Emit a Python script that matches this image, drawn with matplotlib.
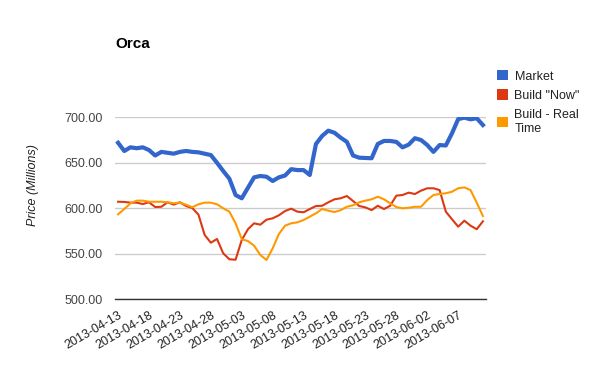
import pandas as pd
import matplotlib
matplotlib.use("Agg")
import matplotlib.pyplot as plt
from matplotlib.patches import Patch

plt.rcParams['font.family'] = ['Liberation Sans', 'DejaVu Sans']

# daily values, 2013-04-13 .. 2013-06-11
dates = pd.date_range("2013-04-13", periods=60, freq="D").strftime("%Y-%m-%d").tolist()

market = [672, 663, 667, 666, 667, 664, 658, 662, 661, 660,
          662, 663, 662, 661.5, 660, 658.5, 650, 641, 632.5, 614.6,
          611, 622.6, 634, 635.5, 634.7, 630, 634, 636, 643, 642,
          642, 636.6, 670.7, 679.5, 685.3, 683, 677.6, 673, 658, 655.6,
          655.3, 655, 670.7, 674, 674, 673, 667, 670, 677, 675,
          669.5, 662, 669.5, 669, 682.4, 698, 699.6, 697.8, 699, 691.5]

build_now = [607.2, 607, 606.2, 606.2, 604.7, 606.6, 601.4, 601.7, 606.6, 604,
             606.6, 602.5, 600.3, 593, 570.7, 562.2, 566.3, 550.5, 544, 543.5,
             565.2, 577, 583.5, 582, 587.5, 589, 592.3, 597, 599.6, 596.3,
             595.6, 599.2, 602.5, 602.8, 606.6, 609.9, 611, 613.5, 608, 602.5,
             601, 598, 602.8, 599.2, 602.8, 613.9, 614.6, 617.2, 615.7, 619.4,
             622, 622, 620, 596.3, 588, 579.8, 586.4, 580.9, 577, 585.7]

build_real = [593.4, 599.2, 605.5, 608.4, 608.4, 607.2, 607.2, 607.2, 606.6, 605.5,
              606.2, 603.9, 601.2, 604.4, 606.2, 606.2, 604.4, 600, 596.3, 583.5,
              566, 564, 558.9, 548.7, 543.2, 556, 571.7, 580.9, 583.5, 584.6,
              587.1, 590.8, 594.5, 599.2, 597.4, 595.9, 598, 601.7, 603.3, 606.6,
              608.4, 609.9, 612.7, 609.9, 605.5, 601.4, 600, 600.6, 601.7, 601.7,
              609.1, 614.6, 615.7, 616.5, 618.2, 622, 623, 620, 606.2, 591.5]

series_names = ["Market", 'Build "Now"', "Build - Real Time"]
legend_labels = ["Market", 'Build "Now"', "Build - Real\nTime"]
colors = ["#3366cc", "#dc3912", "#ff9900"]
y_ticks = [500, 550, 600, 650, 700]

fig = plt.figure(figsize=(6, 3.71), dpi=100)
ax = fig.add_axes([115 / 600, 1 - 299.3 / 371, 371 / 600, 182 / 371])

x = list(range(len(dates)))
ax.plot(x, market, color=colors[0], lw=3.0, solid_joinstyle="round", zorder=3)
ax.plot(x, build_now, color=colors[1], lw=1.5, zorder=3)
ax.plot(x, build_real, color=colors[2], lw=1.5, zorder=3)

ax.set_xlim(-0.5, len(dates) - 0.5)
ax.set_ylim(500, 700)
ax.set_yticks(y_ticks)
ax.set_yticklabels([f"{v:.2f}" for v in y_ticks])
ax.yaxis.grid(True, color="#cccccc", lw=1)
ax.set_axisbelow(True)
for s in ["top", "right", "left"]:
    ax.spines[s].set_visible(False)
ax.spines["bottom"].set_color("#333333")
ax.spines["bottom"].set_linewidth(1)
ax.spines["bottom"].set_zorder(4)

ax.set_xticks(x[::5])
ax.set_xticklabels(dates[::5], rotation=30, ha="right", rotation_mode="anchor")
ax.tick_params(axis="both", length=0, labelsize=9, labelcolor="#222222")
ax.tick_params(axis="y", pad=9, labelcolor="#444444")
ax.tick_params(axis="x", pad=7)

ax.set_ylabel("Price (Millions)", fontsize=9, style="italic", color="#222222")
ax.yaxis.set_label_coords(-0.205, 0.63)

fig.text(115 / 600, 1 - 44.5 / 371, "Orca", fontsize=11, fontweight="bold",
         ha="left", va="center", color="#000000")

handles = [Patch(facecolor=c, edgecolor="none") for c in colors]
fig.legend(handles, legend_labels, loc="upper left",
           bbox_to_anchor=(497 / 600, 1 - 70 / 371), frameon=False,
           fontsize=9, handlelength=0.9, handleheight=0.9,
           handletextpad=0.5, labelspacing=0.55, borderaxespad=0,
           borderpad=0, labelcolor="#222222")

fig.savefig("out.png", dpi=100)
